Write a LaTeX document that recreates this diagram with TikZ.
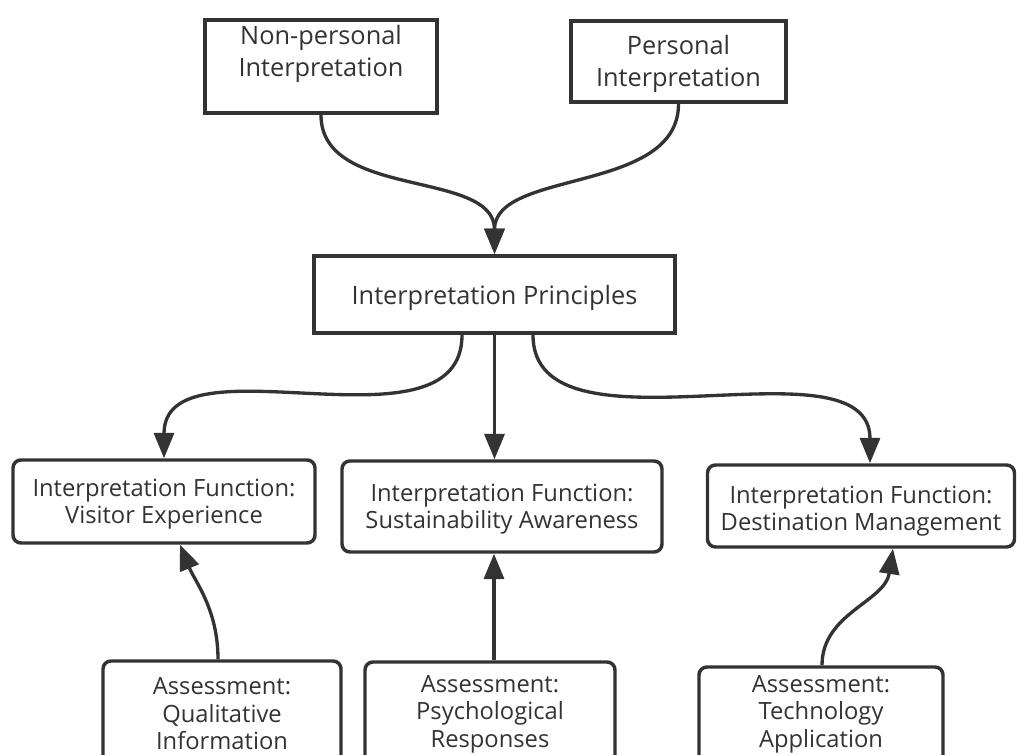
\documentclass[tikz,border=0pt]{standalone}
\usepackage{fontspec}
\setmainfont{Open Sans}
\usetikzlibrary{arrows.meta,calc}
\definecolor{ln}{HTML}{333333}
\definecolor{tx}{HTML}{333333}
\begin{document}
\begin{tikzpicture}[x=0.75pt,y=-0.75pt,
  sqbox/.style={draw=ln,line width=3pt,fill=white,inner sep=0pt},
  rdbox/.style={draw=ln,line width=2.6pt,fill=white,rounded corners=6pt,inner sep=0pt},
  bigtxt/.style={text=tx,font=\fontsize{19}{24}\selectfont,align=center,inner sep=0pt},
  smtxt/.style={text=tx,font=\fontsize{17.8}{20.6}\selectfont,align=center,inner sep=0pt},
  arr/.style={draw=ln,line width=2.5pt,-{Triangle[length=19pt,width=15pt]}}]
\useasboundingbox (0,0) rectangle (1021,755);
\clip (0,0) rectangle (1021,755);
% boxes
\node[sqbox,minimum width=174pt,minimum height=69.75pt] (np) at (321,66.5) {};
\node[sqbox,minimum width=161.25pt,minimum height=60.75pt] (pe) at (678.5,61.5) {};
\node[sqbox,minimum width=270.75pt,minimum height=57.75pt] (ip) at (494.5,294.5) {};
\node[rdbox,minimum width=226.5pt,minimum height=62.25pt] (ve) at (164,501.5) {};
\node[rdbox,minimum width=240pt,minimum height=68.25pt] (sa) at (502,506.5) {};
\node[rdbox,minimum width=230.25pt,minimum height=61.5pt] (dm) at (861,506) {};
\node[rdbox,minimum width=178.5pt,minimum height=96.75pt] (qi) at (222,725.5) {};
\node[rdbox,minimum width=187.5pt,minimum height=96pt] (pr) at (490,726) {};
\node[rdbox,minimum width=183pt,minimum height=92.25pt] (ta) at (821,728.5) {};
% texts
\node[bigtxt] (npt) at (321,54) {Non-personal\\Interpretation};
\node[bigtxt] (pet) at (678.5,64) {Personal\\Interpretation};
\node[bigtxt] (ipt) at (494.5,298) {Interpretation Principles};
\node[smtxt] (vet) at (164,504) {Interpretation Function:\\Visitor Experience};
\node[smtxt] (sat) at (502,509) {Interpretation Function:\\Sustainability Awareness};
\node[smtxt] (dmt) at (861,511) {Interpretation Function:\\Destination Management};
\node[smtxt] (qit) at (222,714) {Assessment:\\Qualitative\\Information};
\node[smtxt] (prt) at (490,714) {Assessment:\\Psychological\\Responses};
\node[smtxt] (tat) at (821,714) {Assessment:\\Technology\\Application};
% connector ends
\coordinate (ipl) at ($(ip.south)+(-32.5,0)$);
\coordinate (ipr) at ($(ip.south)+(38.5,0)$);
\coordinate (dmn) at ($(dm.north)+(9,0)$);
\coordinate (qin) at ($(qi.north)+(-4,0)$);
\coordinate (ves) at ($(ve.south)+(16,0)$);
\coordinate (prn) at ($(pr.north)+(4,0)$);
\coordinate (tan) at ($(ta.north)+(1,0)$);
\coordinate (dms) at ($(dm.south)+(32,0)$);
% connectors
\draw[arr] (np.south) .. controls +(0,85) and +(0,-85) .. (ip.north);
\draw[arr] (pe.south) .. controls +(0,90) and +(0,-85) .. (ip.north);
\draw[arr] (ipl) .. controls +(0,125) and +(0,-125) .. (ve.north);
\draw[arr] (ip.south) -- (ip.south |- sa.north);
\draw[arr] (ipr) .. controls +(0,130) and +(0,-130) .. (dmn);
\draw[arr] (qin) .. controls +(0,-50) and +(15,37) .. (ves);
\draw[arr] (prn) -- (prn |- sa.south);
\draw[arr] (tan) .. controls +(0,-52) and +(-8,53) .. (dms);
\end{tikzpicture}
\end{document}
